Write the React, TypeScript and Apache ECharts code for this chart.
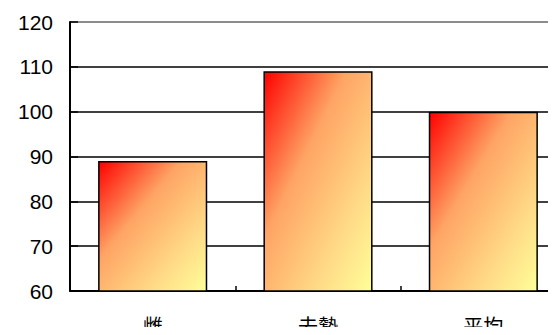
import React, { useEffect, useRef } from "react";
import * as echarts from "echarts";

const categories = ["雌", "去勢", "平均"];
const values = [89, 109, 100];
const yMin = 60;
const yMax = 120;
const yStep = 10;

export default function App() {
  const ref = useRef<HTMLDivElement>(null);

  useEffect(() => {
    if (!ref.current) return;
    const chart = echarts.init(ref.current, undefined, { renderer: "svg" });
    chart.setOption({
      animation: false,
      backgroundColor: "#ffffff",
      grid: { left: 70, top: 22, right: 0, bottom: 43, containLabel: false },
      xAxis: {
        type: "category",
        data: categories,
        axisLine: { lineStyle: { color: "#000", width: 2 } },
        axisTick: { show: true, inside: true, length: 5, lineStyle: { color: "#000", width: 1.5 } },
        axisLabel: {
          margin: 24,
          fontSize: 20,
          color: "#000",
          fontFamily: "Noto Sans CJK JP",
        },
      },
      yAxis: {
        type: "value",
        min: yMin,
        max: yMax,
        interval: yStep,
        axisLine: { show: true, lineStyle: { color: "#000", width: 2 } },
        axisTick: { show: true, inside: true, length: 8, lineStyle: { color: "#000", width: 1.5 } },
        axisLabel: {
          margin: 17,
          fontSize: 21,
          color: "#000",
          fontFamily: "Liberation Sans, Arial, sans-serif",
        },
        splitLine: {
          show: true,
          lineStyle: {
            color: ["#000", "#000", "#000", "#000", "#000", "#000", "#666"],
            width: 1.5,
          },
        },
      },
      series: [
        {
          type: "bar",
          data: values,
          barWidth: "66%",
          itemStyle: {
            color: new echarts.graphic.LinearGradient(0, 0, 1, 1, [
              { offset: 0, color: "#ff0000" },
              { offset: 0.38, color: "#ffa464" },
              { offset: 0.75, color: "#ffdc88" },
              { offset: 1, color: "#ffff99" },
            ]),
            borderColor: "#000",
            borderWidth: 1.5,
          },
        },
      ],
    });
    return () => chart.dispose();
  }, []);

  return (
    <div style={{ width: 556, height: 335, overflow: "hidden", margin: -8, position: "relative" }}>
      <div ref={ref} style={{ width: 566, height: 335 }} />
    </div>
  );
}
